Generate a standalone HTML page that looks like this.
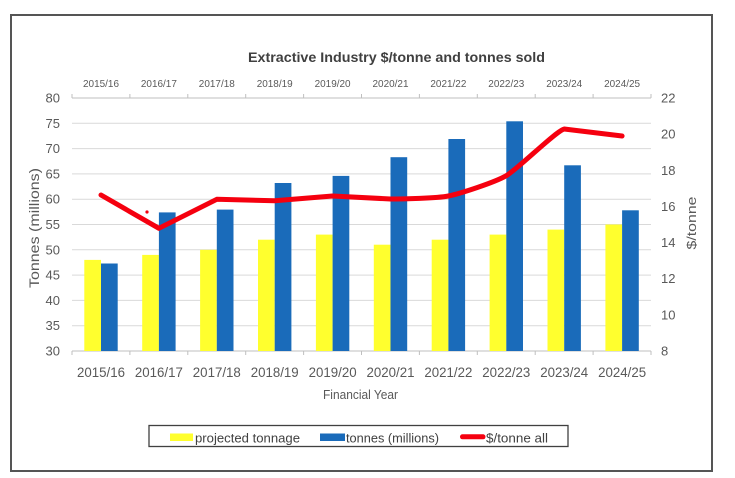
<!DOCTYPE html>
<html><head><meta charset="utf-8"><style>
html,body{margin:0;padding:0;background:#fff;}
svg{display:block;}
text{font-family:"Liberation Sans",Arial,sans-serif;}
</style></head><body>
<svg width="735" height="478" viewBox="0 0 735 478" xmlns="http://www.w3.org/2000/svg">
<rect x="0" y="0" width="735" height="478" fill="#fff"/>
<rect x="11" y="15" width="701" height="456" fill="#fff" stroke="#555" stroke-width="2"/>

<!-- title -->
<text x="396.5" y="62" text-anchor="middle" font-size="14" font-weight="bold" fill="#404040" textLength="297" lengthAdjust="spacingAndGlyphs">Extractive Industry $/tonne and tonnes sold</text>

<!-- gridlines -->
<g stroke="#d9d9d9" stroke-width="1">
<line x1="72" y1="123.3" x2="651" y2="123.3"/>
<line x1="72" y1="148.6" x2="651" y2="148.6"/>
<line x1="72" y1="173.9" x2="651" y2="173.9"/>
<line x1="72" y1="199.2" x2="651" y2="199.2"/>
<line x1="72" y1="224.5" x2="651" y2="224.5"/>
<line x1="72" y1="249.8" x2="651" y2="249.8"/>
<line x1="72" y1="275.1" x2="651" y2="275.1"/>
<line x1="72" y1="300.4" x2="651" y2="300.4"/>
<line x1="72" y1="325.7" x2="651" y2="325.7"/>
</g>
<g stroke="#bfbfbf" stroke-width="1">
<line x1="72" y1="98" x2="651" y2="98"/>
<line x1="72" y1="351" x2="651" y2="351"/>
<line x1="72" y1="94" x2="72" y2="98"/><line x1="129.9" y1="94" x2="129.9" y2="98"/><line x1="187.8" y1="94" x2="187.8" y2="98"/><line x1="245.7" y1="94" x2="245.7" y2="98"/><line x1="303.6" y1="94" x2="303.6" y2="98"/><line x1="361.5" y1="94" x2="361.5" y2="98"/><line x1="419.4" y1="94" x2="419.4" y2="98"/><line x1="477.3" y1="94" x2="477.3" y2="98"/><line x1="535.2" y1="94" x2="535.2" y2="98"/><line x1="593.1" y1="94" x2="593.1" y2="98"/><line x1="651" y1="94" x2="651" y2="98"/>
<line x1="72" y1="351" x2="72" y2="355"/><line x1="129.9" y1="351" x2="129.9" y2="355"/><line x1="187.8" y1="351" x2="187.8" y2="355"/><line x1="245.7" y1="351" x2="245.7" y2="355"/><line x1="303.6" y1="351" x2="303.6" y2="355"/><line x1="361.5" y1="351" x2="361.5" y2="355"/><line x1="419.4" y1="351" x2="419.4" y2="355"/><line x1="477.3" y1="351" x2="477.3" y2="355"/><line x1="535.2" y1="351" x2="535.2" y2="355"/><line x1="593.1" y1="351" x2="593.1" y2="355"/><line x1="651" y1="351" x2="651" y2="355"/>
</g>

<!-- yellow bars -->
<g fill="#FFFF2E">
<rect x="84.3" y="259.9" width="16.7" height="91.1"/>
<rect x="142.2" y="254.9" width="16.7" height="96.1"/>
<rect x="200.1" y="249.8" width="16.7" height="101.2"/>
<rect x="258.0" y="239.7" width="16.7" height="111.3"/>
<rect x="315.9" y="234.6" width="16.7" height="116.4"/>
<rect x="373.8" y="244.7" width="16.7" height="106.3"/>
<rect x="431.7" y="239.7" width="16.7" height="111.3"/>
<rect x="489.6" y="234.6" width="16.7" height="116.4"/>
<rect x="547.5" y="229.6" width="16.7" height="121.4"/>
<rect x="605.4" y="224.5" width="16.7" height="126.5"/>
</g>
<!-- blue bars -->
<g fill="#1A6BBA">
<rect x="101.0" y="263.5" width="16.7" height="87.5"/>
<rect x="158.9" y="212.4" width="16.7" height="138.6"/>
<rect x="216.8" y="209.6" width="16.7" height="141.4"/>
<rect x="274.7" y="183.0" width="16.7" height="168.0"/>
<rect x="332.6" y="175.9" width="16.7" height="175.1"/>
<rect x="390.5" y="157.2" width="16.7" height="193.8"/>
<rect x="448.4" y="139.0" width="16.7" height="212.0"/>
<rect x="506.3" y="121.3" width="16.7" height="229.7"/>
<rect x="564.2" y="165.3" width="16.7" height="185.7"/>
<rect x="622.1" y="210.3" width="16.7" height="140.7"/>
</g>

<!-- red line -->
<path d="M101,195 L158.9,228.3 L216.8,199.3 L274.7,200.7 L332.6,196 L390.5,199 C402.1,199 436.8,198.3 448.4,196 C460.0,193.7 494.7,182.4 506.3,175.7 C517.9,169.0 556,131 564.2,129 L622.1,136" fill="none" stroke="#F5000F" stroke-width="5" stroke-linecap="round" stroke-linejoin="round"/>
<circle cx="147" cy="212" r="1.6" fill="#F5000F"/>

<!-- top category labels -->
<g font-size="10.5" fill="#595959" text-anchor="middle">
<text x="101" y="87" textLength="36" lengthAdjust="spacingAndGlyphs">2015/16</text>
<text x="158.9" y="87" textLength="36" lengthAdjust="spacingAndGlyphs">2016/17</text>
<text x="216.8" y="87" textLength="36" lengthAdjust="spacingAndGlyphs">2017/18</text>
<text x="274.7" y="87" textLength="36" lengthAdjust="spacingAndGlyphs">2018/19</text>
<text x="332.6" y="87" textLength="36" lengthAdjust="spacingAndGlyphs">2019/20</text>
<text x="390.5" y="87" textLength="36" lengthAdjust="spacingAndGlyphs">2020/21</text>
<text x="448.4" y="87" textLength="36" lengthAdjust="spacingAndGlyphs">2021/22</text>
<text x="506.3" y="87" textLength="36" lengthAdjust="spacingAndGlyphs">2022/23</text>
<text x="564.2" y="87" textLength="36" lengthAdjust="spacingAndGlyphs">2023/24</text>
<text x="622.1" y="87" textLength="36" lengthAdjust="spacingAndGlyphs">2024/25</text>
</g>
<!-- bottom category labels -->
<g font-size="13.5" fill="#595959" text-anchor="middle">
<text x="101" y="377" textLength="48" lengthAdjust="spacingAndGlyphs">2015/16</text>
<text x="158.9" y="377" textLength="48" lengthAdjust="spacingAndGlyphs">2016/17</text>
<text x="216.8" y="377" textLength="48" lengthAdjust="spacingAndGlyphs">2017/18</text>
<text x="274.7" y="377" textLength="48" lengthAdjust="spacingAndGlyphs">2018/19</text>
<text x="332.6" y="377" textLength="48" lengthAdjust="spacingAndGlyphs">2019/20</text>
<text x="390.5" y="377" textLength="48" lengthAdjust="spacingAndGlyphs">2020/21</text>
<text x="448.4" y="377" textLength="48" lengthAdjust="spacingAndGlyphs">2021/22</text>
<text x="506.3" y="377" textLength="48" lengthAdjust="spacingAndGlyphs">2022/23</text>
<text x="564.2" y="377" textLength="48" lengthAdjust="spacingAndGlyphs">2023/24</text>
<text x="622.1" y="377" textLength="48" lengthAdjust="spacingAndGlyphs">2024/25</text>
</g>

<!-- left axis labels -->
<g font-size="13" fill="#595959" text-anchor="end">
<text x="60" y="102.5">80</text>
<text x="60" y="127.8">75</text>
<text x="60" y="153.1">70</text>
<text x="60" y="178.4">65</text>
<text x="60" y="203.7">60</text>
<text x="60" y="229">55</text>
<text x="60" y="254.3">50</text>
<text x="60" y="279.6">45</text>
<text x="60" y="304.9">40</text>
<text x="60" y="330.2">35</text>
<text x="60" y="355.5">30</text>
</g>
<!-- right axis labels -->
<g font-size="13" fill="#595959" text-anchor="start">
<text x="661" y="102.5">22</text>
<text x="661" y="138.6">20</text>
<text x="661" y="174.8">18</text>
<text x="661" y="210.9">16</text>
<text x="661" y="247.1">14</text>
<text x="661" y="283.2">12</text>
<text x="661" y="319.4">10</text>
<text x="661" y="355.5">8</text>
</g>

<!-- axis titles -->
<text transform="translate(39,228) rotate(-90)" text-anchor="middle" font-size="14" fill="#595959" textLength="120" lengthAdjust="spacingAndGlyphs">Tonnes (millions)</text>
<text transform="translate(696,223) rotate(-90)" text-anchor="middle" font-size="13" fill="#595959" textLength="53" lengthAdjust="spacingAndGlyphs">$/tonne</text>
<text x="323" y="399" font-size="13" fill="#595959" textLength="75" lengthAdjust="spacingAndGlyphs">Financial Year</text>

<!-- legend -->
<rect x="149" y="425.5" width="419" height="21" fill="#fff" stroke="#404040" stroke-width="1.3"/>
<rect x="170" y="433.5" width="23" height="7.5" fill="#FFFF2E"/>
<text x="195" y="442.5" font-size="13" fill="#404040" textLength="105" lengthAdjust="spacingAndGlyphs">projected tonnage</text>
<rect x="320" y="433.5" width="25" height="7.5" fill="#1A6BBA"/>
<text x="346" y="442.5" font-size="13" fill="#404040" textLength="93" lengthAdjust="spacingAndGlyphs">tonnes (millions)</text>
<line x1="462.5" y1="436.8" x2="483" y2="436.8" stroke="#F5000F" stroke-width="5" stroke-linecap="round"/>
<text x="486" y="442.5" font-size="13" fill="#404040" textLength="62" lengthAdjust="spacingAndGlyphs">$/tonne all</text>
</svg>
</body></html>
